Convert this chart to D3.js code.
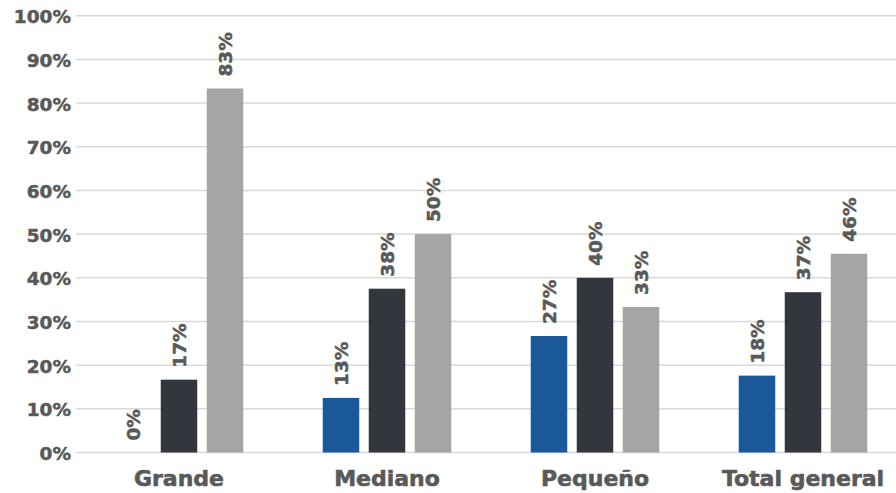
<!DOCTYPE html>
<html><head><meta charset="utf-8">
<script src="https://cdn.jsdelivr.net/npm/d3@7"></script>
<style>
html,body{margin:0;padding:0;background:#fff;}
svg{display:block;font-family:"DejaVu Sans",sans-serif;font-weight:bold;}
</style></head>
<body><svg id="chart" width="896" height="493"></svg>
<script>
const categories = ["Grande", "Mediano", "Pequeño", "Total general"];
const seriesNames = ["s1", "s2", "s3"];
const s1 = [0, 12.5, 26.67, 17.6];
const s2 = [16.67, 37.5, 40, 36.7];
const s3 = [83.33, 50, 33.33, 45.5];
const colors = ["#1a5899", "#33363d", "#a5a5a5"];
const yTicks = [0, 10, 20, 30, 40, 50, 60, 70, 80, 90, 100];

(function() {
const seriesData = [s1, s2, s3];
const svg = d3.select("#chart");
const mLeft = 75, mRight = 907, mTop = 15.7, mBottom = 452.5;
const textColor = "#595959";

const y = d3.scaleLinear().domain([0, 100]).range([mBottom, mTop]);
const x0 = d3.scaleBand().domain(categories).range([mLeft, mRight]).paddingInner(0.382).paddingOuter(0.191);
const x1 = d3.scaleBand().domain(seriesNames).range([0, x0.bandwidth()]).paddingInner(0.2065).paddingOuter(0);

// gridlines
svg.append("g").selectAll("line").data(yTicks).join("line")
  .attr("x1", mLeft + 1).attr("x2", 896)
  .attr("y1", d => y(d)).attr("y2", d => y(d))
  .attr("stroke", "#d9d9d9").attr("stroke-width", 1.5);

// y axis labels
const yAxis = d3.axisLeft(y).tickValues(yTicks).tickFormat(d => d + "%").tickSize(0).tickPadding(4);
const ya = svg.append("g").attr("transform", `translate(${mLeft},0)`).call(yAxis);
ya.select(".domain").remove();
ya.selectAll("text").attr("font-size", 18.5).attr("font-family", "DejaVu Sans").attr("font-weight", "bold")
  .attr("fill", textColor).attr("stroke", textColor).attr("stroke-width", 0.5).attr("dy", "0.38em");

// x axis labels
const xAxis = d3.axisBottom(x0).tickSize(0).tickPadding(18);
const xa = svg.append("g").attr("transform", `translate(0,${mBottom})`).call(xAxis);
xa.select(".domain").remove();
xa.selectAll("text").attr("font-size", 22).attr("font-family", "DejaVu Sans").attr("font-weight", "bold")
  .attr("fill", textColor).attr("stroke", textColor).attr("stroke-width", 0.6);

// bars
const groups = svg.append("g").selectAll("g").data(categories).join("g")
  .attr("transform", d => `translate(${x0(d)},0)`);

groups.each(function(cat, ci) {
  const g = d3.select(this);
  seriesNames.forEach((s, si) => {
    const v = seriesData[si][ci];
    g.append("rect")
      .attr("x", x1(s)).attr("width", x1.bandwidth())
      .attr("y", y(v)).attr("height", y(0) - y(v))
      .attr("fill", colors[si]);
    const cx = x1(s) + x1.bandwidth() / 2;
    const ty = y(v) - 12;
    g.append("text")
      .attr("transform", `translate(${cx},${ty}) rotate(-90)`)
      .attr("dy", "0.36em")
      .attr("text-anchor", "start")
      .attr("font-size", 18.5).attr("fill", textColor)
      .attr("stroke", textColor).attr("stroke-width", 0.5)
      .text(Math.round(v) + "%");
  });
});
})();
</script></body></html>
